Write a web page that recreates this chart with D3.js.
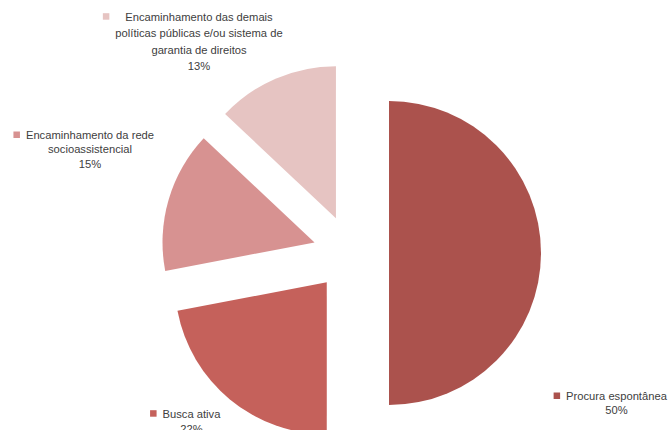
<!DOCTYPE html>
<html>
<head>
<meta charset="utf-8">
<script src="https://cdn.jsdelivr.net/npm/d3@7"></script>
<style>
	body {margin: 0; background: #fff;}
	text {font-family: "Liberation Sans", Arial, sans-serif; font-size: 11.2px; fill: #404040;}
</style>
</head>
<body>
<svg width="669" height="430"></svg>
<script>
'use strict';
// data, clockwise from 12 o'clock
let aNames = [
	"Procura espontânea",
	"Busca ativa",
	"Encaminhamento da rede socioassistencial",
	"Encaminhamento das demais políticas públicas e/ou sistema de garantia de direitos"]
let aValues = [50, 22, 15, 13]
let aLabelLines = [
	["Procura espontânea"],
	["Busca ativa"],
	["Encaminhamento da rede", "socioassistencial"],
	["Encaminhamento das demais", "políticas públicas e/ou sistema de", "garantia de direitos"]]
let aColors = ["#ab524d", "#c5615b", "#d79291", "#e6c4c2"]

// layout
let eSvg = d3.select("svg"),
	dWidth = +eSvg.attr("width"),
	dHeight = +eSvg.attr("height")
let dCx = 351, dCy = 253, dRadius = 152, dExplode = 38
// label anchors: centre x of the text block, first baseline, line step
let aLabelPos = [
	{x: 616.5, y: 400, step: 13.5},
	{x: 191.5, y: 417.7, step: 15.5},
	{x: 90, y: 139, step: 14.3},
	{x: 199, y: 20.7, step: 16.5}]

let pie = d3.pie().sort(null).value(d => d)
let arc = d3.arc().innerRadius(0).outerRadius(dRadius)
let aArcs = pie(aValues)
let dTotal = d3.sum(aValues)

// exploded slices, each pushed out along its bisector
eSvg.append("g")
	.attr("class", "slices")
	.selectAll("path")
	.data(aArcs)
	.enter()
	.append("path")
	.attr("d", arc)
	.attr("fill", (d, i) => aColors[i])
	.attr("transform", d => {
		let a = (d.startAngle + d.endAngle) / 2
		let x = dCx + Math.sin(a) * dExplode
		let y = dCy - Math.cos(a) * dExplode
		return `translate(${x},${y})`})

// data labels with legend key
let eLabels = eSvg.append("g")
	.attr("class", "labels")
	.selectAll("g")
	.data(aArcs)
	.enter()
	.append("g")

eLabels.each(function(d, i) {
	let g = d3.select(this)
	let pos = aLabelPos[i]
	let lines = aLabelLines[i].concat([Math.round(d.value / dTotal * 100) + "%"])
	let t = g.append("text").attr("text-anchor", "middle")
	lines.forEach((l, k) => {
		t.append("tspan")
			.attr("x", pos.x)
			.attr("y", pos.y + k * pos.step)
			.text(l)})
	let maxW = d3.max(t.selectAll("tspan").nodes(), n => n.getComputedTextLength())
	g.append("rect")
		.attr("x", pos.x - maxW / 2 - 6 - 6.5)
		.attr("y", pos.y - 7.5)
		.attr("width", 6.5)
		.attr("height", 6.5)
		.attr("fill", aColors[i])
	g.append("title").text(aNames[i])
})
</script>
</body>
</html>
